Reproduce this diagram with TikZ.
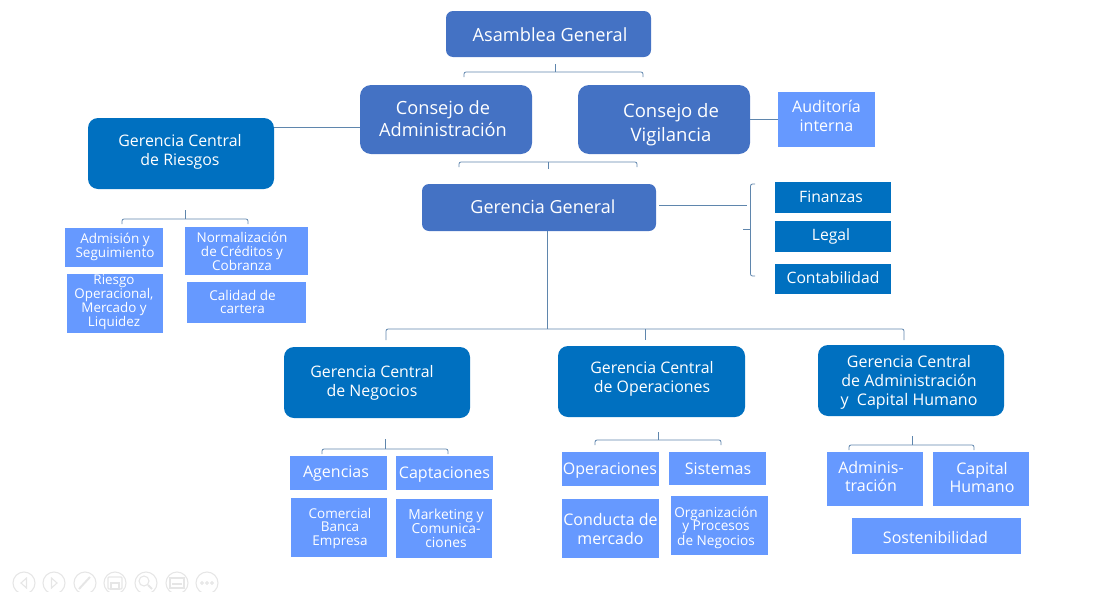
\documentclass[tikz,border=0pt]{standalone}
\usepackage{fontspec}
\usepackage{calc}
\setmainfont{Open Sans}
\definecolor{slate}{HTML}{4472C4}
\definecolor{deep}{HTML}{0070C0}
\definecolor{light}{HTML}{6699FF}
\definecolor{wire}{HTML}{5F86AD}
\definecolor{ghost}{HTML}{E6E6E6}
\tikzset{
  x=1pt,y=-1pt,
  big/.style={rectangle,rounded corners=11pt,fill=slate},
  wide/.style={rectangle,rounded corners=7pt,fill=slate},
  gc/.style={rectangle,rounded corners=10pt,fill=deep},
  sq/.style={rectangle,fill=light},
  dk/.style={rectangle,fill=deep},
  wire/.style={draw=wire,line width=0.8pt},
  tree/.style={wire,rounded corners=2pt},
  ic/.style={draw=ghost,line width=1.1pt}
}
% \T{dx}{dy}{size}{line spacing}{text}: text block moved by dx,dy from the centre of the box
\newcommand{\T}[5]{\raisebox{\dimexpr -#2pt-3pt-0.22\dimexpr #3pt\relax\relax}[0pt][0pt]{\makebox[0pt]{\hspace{\dimexpr 2\dimexpr #1pt\relax\relax}\fontsize{#3}{#4}\selectfont\begin{tabular}{@{}c@{}}#5\end{tabular}}}}
\newcommand{\bx}[7]{\node[#2,inner sep=0pt,text=white,align=center,minimum width=#5pt-#3pt,minimum height=#6pt-#4pt] (#1) at ({(#3+#5)/2},{(#4+#6)/2}) {#7};}
\newcommand{\brk}[6]{% name, stem x, stem top, bar y, left x, right x
  \coordinate (#1t) at (#2,#3);\coordinate (#1m) at (#2,#4);
  \coordinate (#1l) at (#5,#4+5);\coordinate (#1r) at (#6,#4+5);
  \draw[wire] (#1t)--(#1m);
  \draw[tree] (#1l)--(#5,#4)--(#6,#4)--(#1r);}
\begin{document}
\begin{tikzpicture}
\useasboundingbox (0,0) rectangle (1093,592);
\bx{ag}{wide}{446}{11}{651}{57}{\T{1.5}{0}{18.2}{22}{Asamblea General}}
\bx{ca}{big}{360}{85}{532}{154}{\T{-3}{-1.5}{18.2}{22}{Consejo de\\Administración}}
\bx{cv}{big}{578}{85}{750}{154}{\T{7}{2}{18.5}{24}{Consejo de\\Vigilancia}}
\bx{ai}{sq}{778}{92}{875}{147}{\T{0}{-3.5}{16}{18.5}{Auditoría\\interna}}
\bx{gr}{gc}{88}{118}{274}{189}{\T{-1}{-3}{15.9}{19}{Gerencia Central\\de Riesgos}}
\bx{gg}{wide}{422}{184}{656}{231}{\T{4}{-1.5}{18}{22}{Gerencia General}}
\bx{fi}{dk}{775}{182}{891}{213}{\T{-2}{-1.5}{15.7}{19}{Finanzas}}
\bx{le}{dk}{775}{221}{891}{252}{\T{-2}{-2.5}{15.7}{19}{Legal}}
\bx{co}{dk}{775}{264}{891}{294}{\T{0}{-2.5}{15.7}{19}{Contabilidad}}
\bx{ad}{sq}{65}{228}{163}{267}{\T{1}{-2.5}{13.5}{14}{Admisión y\\Seguimiento}}
\bx{ri}{sq}{67}{274}{163}{333}{\T{-1}{-3.5}{13.4}{13.3}{Riesgo\\Operacional,\\Mercado y\\Liquidez}}
\bx{no}{sq}{185}{227}{308}{275}{\T{-4.5}{0}{13.5}{13.7}{Normalización\\de Créditos y\\Cobranza}}
\bx{cc}{sq}{187}{282}{306}{323}{\T{-4}{-1}{13.5}{13.5}{Calidad de\\cartera}}
\bx{gn}{gc}{284}{347}{470}{418}{\T{-5}{-1}{15.9}{19}{Gerencia Central\\de Negocios}}
\bx{go}{gc}{558}{346}{745}{417}{\T{0.5}{-4}{15.9}{19}{Gerencia Central\\de Operaciones}}
\bx{gh}{gc}{818}{345}{1004}{416}{\T{-2}{-0.5}{16}{19}{Gerencia Central\\de Administración\\y\ \ Capital Humano}}
\bx{ag2}{sq}{290}{456}{387}{490}{\T{-2.5}{-2}{16}{19}{Agencias}}
\bx{cp}{sq}{396}{456}{493}{490}{\T{0}{-1}{16}{19}{Captaciones}}
\bx{cb}{sq}{291}{498}{387}{557}{\T{1}{-1}{13.5}{13.5}{Comercial\\Banca\\Empresa}}
\bx{mk}{sq}{396}{499}{492}{558}{\T{2}{-0.5}{13.8}{13}{Marketing y\\Comunica-\\ciones}}
\bx{op}{sq}{562}{452}{659}{486}{\T{-0.5}{-1}{16}{19}{Operaciones}}
\bx{si}{sq}{669}{452}{766}{485}{\T{0.5}{-0.5}{16}{19}{Sistemas}}
\bx{cm}{sq}{562}{499}{659}{558}{\T{0}{0}{16}{19}{Conducta de\\mercado}}
\bx{og}{sq}{671}{496}{768}{555}{\T{-3.5}{0}{13.6}{13.5}{Organización\\y Procesos\\de Negocios}}
\bx{am}{sq}{827}{452}{923}{506}{\T{-4}{-2}{16}{18}{Adminis-\\tración}}
\bx{ch}{sq}{933}{452}{1029}{506}{\T{1}{-1}{16}{18}{Capital\\Humano}}
\bx{so}{sq}{852}{518}{1021}{554}{\T{-1}{1}{16}{19}{Sostenibilidad}}
% connectors
\brk{a}{555}{64}{72}{464}{643}
\brk{b}{548}{169}{162}{459}{637}
\coordinate (cy) at (0,127);
\draw[wire] (gr.east|-cy)--(ca.west|-cy);
\draw[wire] (cv.east)--(ai.west);
% gerencia general side bracket
\coordinate (sa) at (659,205);\coordinate (sc) at (747,205);
\coordinate (sb) at (743,229);\coordinate (sd) at (750.5,229);
\coordinate (s1) at (755,184);\coordinate (s2) at (755,276);
\draw[wire] (sa)--(sc);
\draw[wire] (sb)--(sd);
\draw[tree] (s1)--(750.5,184)--(750.5,276)--(s2);
% main trunk
\coordinate (h) at (547,329);
\draw[wire] (gg.south-|h)--(h);
\coordinate (hl) at (386,340);\coordinate (hr) at (904,340);
\draw[tree] (hl)--(386,329)--(904,329)--(hr);
\coordinate (hc) at (645,340);\draw[wire] (645,329)--(hc);
\brk{c}{185}{210}{219}{122}{248}
\brk{d}{385}{439}{449}{322}{448}
\brk{e}{658}{432}{440}{595}{721}
\brk{f}{912}{436}{445}{849}{974}
% toolbar
\foreach \n/\X in {1/24,2/54,3/85,4/115,5/146,6/177,7/207}{\node[circle,ic,minimum size=22pt,inner sep=0pt] (t\n) at (\X,583) {};}
\draw[ic] (26.5,578)--(21,583)--(26.5,588)--cycle;
\draw[ic] (51.5,578)--(57,583)--(51.5,588)--cycle;
\draw[ic,line width=2pt] (79,589)--(90,577);
\draw[ic,rounded corners=1pt] (108,577) rectangle (122,589);\draw[ic] (111,583) rectangle (119,589);
\draw[ic] (144,581) circle (5);\draw[ic,line width=2pt] (148,585)--(152,589);
\draw[ic] (170,578) rectangle (184,588);\draw[ic] (172,584)--(182,584);
\foreach \X in {202,207,212}{\draw[ic] (\X,583) circle (1.3);}
\end{tikzpicture}
\end{document}
